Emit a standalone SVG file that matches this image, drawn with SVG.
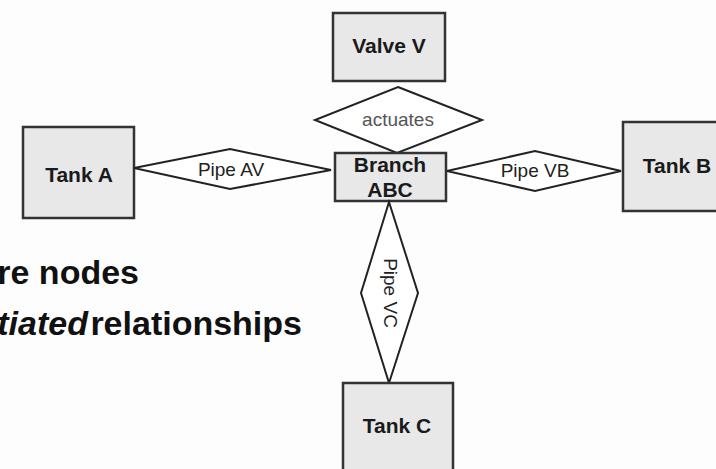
<svg xmlns="http://www.w3.org/2000/svg" width="716" height="469" viewBox="0 0 716 469">
<style>
.box{fill:#e8e8e8;stroke:#333;stroke-width:2.5}
.dia{fill:#fff;stroke:#222;stroke-width:2}
.lbl{font-family:"Liberation Sans",Arial,sans-serif;font-weight:bold;font-size:21px;fill:#1a1a1a;text-anchor:middle}
.rel{font-family:"Liberation Sans",Arial,sans-serif;font-size:19px;fill:#222;text-anchor:middle}
.big{font-family:"Liberation Sans",Arial,sans-serif;font-weight:bold;font-size:34px;fill:#111}
</style>
<rect width="716" height="469" fill="#fdfdfd"/>
<g id="connectors"></g>
<g id="valve-v"><rect class="box" x="333" y="13" width="112" height="68"/><text class="lbl" x="389" y="53">Valve V</text></g>
<g id="actuates"><polygon class="dia" points="398,87 482,120 397,153 315,120"/><text class="rel" x="398" y="126" style="fill:#555">actuates</text></g>
<g id="branch-abc"><rect class="box" x="335" y="153" width="111" height="48"/><text class="lbl" x="390" y="172">Branch</text><text class="lbl" x="390" y="197">ABC</text></g>
<g id="tank-a"><rect class="box" x="23" y="127" width="111" height="91"/><text class="lbl" x="79" y="182">Tank A</text></g>
<g id="pipe-av"><polygon class="dia" points="134,168 230,149 331,170 230,189"/><text class="rel" x="231" y="176">Pipe AV</text></g>
<g id="pipe-vb"><polygon class="dia" points="447,171 535,151 621,171 535,191"/><text class="rel" x="535" y="177">Pipe VB</text></g>
<g id="tank-b"><rect class="box" x="623" y="122" width="110" height="89"/><text class="lbl" x="677" y="173">Tank B</text></g>
<g id="pipe-vc"><polygon class="dia" points="389,202 418,293 389,383 361,293"/><text class="rel" transform="translate(384,293) rotate(90)" x="0" y="0">Pipe VC</text></g>
<g id="tank-c"><rect class="box" x="343" y="383" width="110" height="100"/><text class="lbl" x="397" y="433">Tank C</text></g>
<g id="caption">
<text class="big" x="139" y="284" text-anchor="end">are nodes</text>
<text class="big" x="302" y="335" text-anchor="end" word-spacing="-7"><tspan font-style="italic">tiated</tspan> relationships</text>
</g>
</svg>
